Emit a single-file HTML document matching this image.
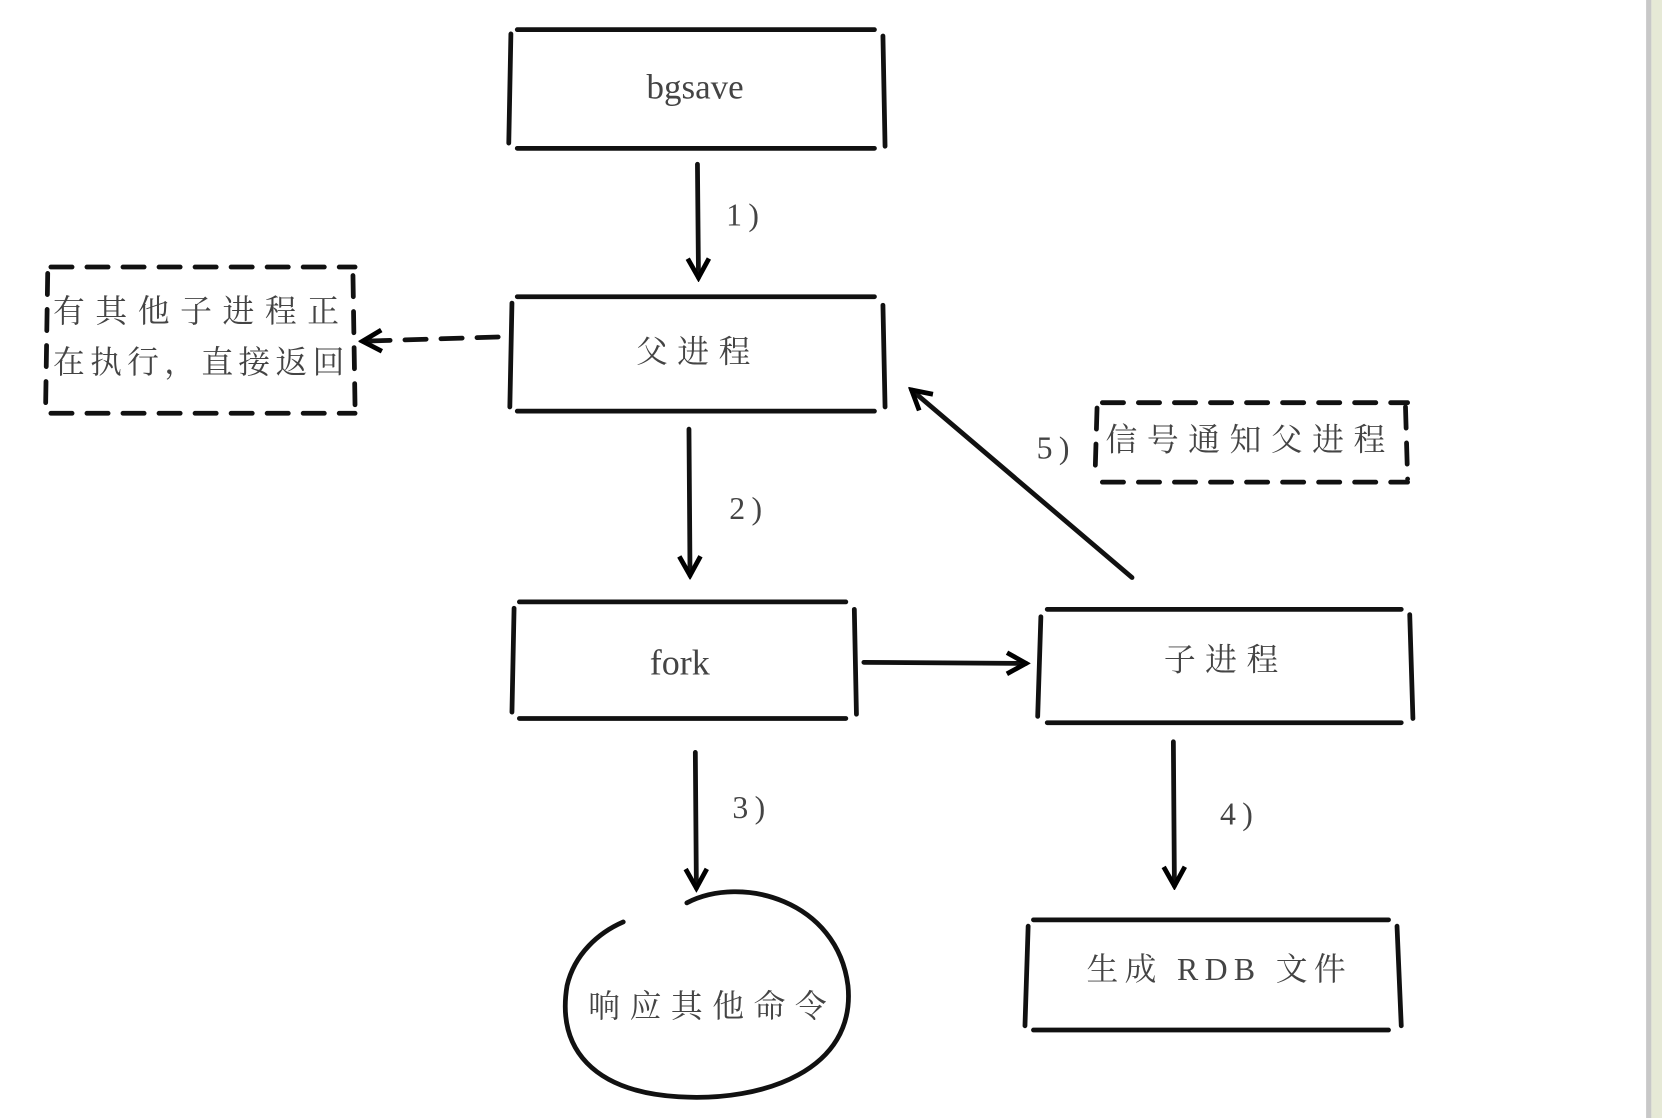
<!DOCTYPE html>
<html><head><meta charset="utf-8"><style>
html,body{margin:0;padding:0;background:#fff;overflow:hidden}
svg{display:block}
text{font-family:"Liberation Serif","Noto Serif CJK SC","Noto Sans CJK SC",serif;fill:#444;dominant-baseline:central}
</style></head><body>
<svg width="1662" height="1118" viewBox="0 0 1568 1055" preserveAspectRatio="none" xmlns="http://www.w3.org/2000/svg">
<defs>
<marker id="a2" markerWidth="24" markerHeight="24" refX="20" refY="12" orient="auto" markerUnits="userSpaceOnUse"><path d="M2,2 L20,12 L2,22" fill="none" stroke="#000" stroke-width="4.5" stroke-linejoin="miter"/></marker></defs>
<rect x="1553" y="0" width="5" height="1055" fill="#c8c8c8"/>
<rect x="1558" y="0" width="10" height="1055" fill="#e6e9d6"/>
<g fill="none" stroke="#111" stroke-width="4.5" stroke-linecap="round">
<path d="M488,28 L825,28 M488,140 L825,140 M482,32 L480,135 M833,34 L835,138"/>
<path d="M488,280 L825,280 M488,388 L825,388 M483,286 L481,384 M833,288 L835,384"/>
<path d="M490,568 L798,568 M490,678 L798,678 M485,574 L483,672 M806,575 L808,674"/>
<path d="M988,575 L1322,575 M988,682 L1322,682 M982,582 L979,676 M1330,580 L1333,678"/>
<path d="M975,868 L1310,868 M975,972 L1310,972 M970,874 L967,968 M1318,874 L1322,968"/>
<path d="M48,252 L335,252 M48,390 L335,390 M45,258 L43,386 M333,260 L335,386" stroke-dasharray="20,14"/>
<path d="M1040,380 L1328,380 M1040,455 L1328,455 M1035,385 L1033,452 M1326,384 L1328,452" stroke-dasharray="20,14"/>
<path d="M658,155 L659,262" marker-end="url(#a2)"/>
<path d="M650,405 L651,543" marker-end="url(#a2)"/>
<path d="M815,625 L968,626" marker-end="url(#a2)"/>
<path d="M656,710 L657,838" marker-end="url(#a2)"/>
<path d="M1107,700 L1108,836" marker-end="url(#a2)"/>
<path d="M1068,545 L860,368" marker-end="url(#a2)"/>
<path d="M470,318 L342,322" stroke-dasharray="20,14" marker-end="url(#a2)"/>
<path d="M648,852 C700,825 790,850 800,930 C808,1010 720,1040 640,1035 C560,1030 525,990 535,930 C542,900 565,880 588,870"/>
</g>
<text x="610" y="82" font-size="33">bgsave</text>
<text x="600" y="332" font-size="30" letter-spacing="9">父进程</text>
<text x="613" y="625" font-size="34">fork</text>
<text x="1098" y="623" font-size="30" letter-spacing="9">子进程</text>
<text x="1025" y="915" font-size="30" letter-spacing="6">生成 RDB 文件</text>
<text x="1043" y="415" font-size="30" letter-spacing="9">信号通知父进程</text>
<text x="555" y="950" font-size="30" letter-spacing="9">响应其他命令</text>
<text x="50" y="294" font-size="30" letter-spacing="10">有其他子进程正</text>
<text x="50" y="342" font-size="30" letter-spacing="5">在执行，直接返回</text>
<text x="685" y="203" font-size="30" letter-spacing="6">1)</text>
<text x="688" y="480" font-size="30" letter-spacing="6">2)</text>
<text x="691" y="762" font-size="30" letter-spacing="6">3)</text>
<text x="1151" y="768" font-size="30" letter-spacing="6">4)</text>
<text x="978" y="423" font-size="30" letter-spacing="6">5)</text>
</svg>
</body></html>
